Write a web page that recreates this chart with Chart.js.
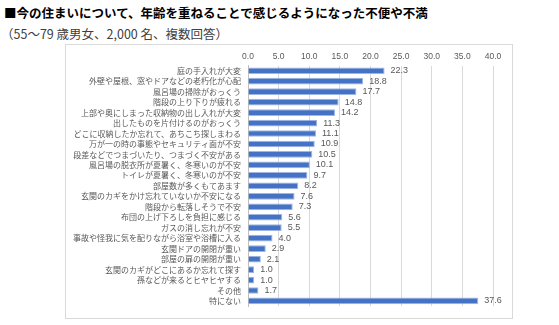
<!DOCTYPE html>
<html>
<head>
<meta charset="utf-8">
<script src="https://cdn.jsdelivr.net/npm/chart.js@4"></script>
<style>
  body { margin: 0; width: 559px; height: 325px; background: #fff; font-family: "Noto Sans CJK JP", sans-serif; position: relative; overflow: hidden; }
  #title { position: absolute; left: 4px; top: 3px; font-size: 12.5px; font-weight: bold; color: #000; white-space: nowrap; }
  #sub { position: absolute; left: 1px; top: 24px; font-size: 12.5px; color: #404040; white-space: nowrap; }
  #frame { position: absolute; left: 65px; top: 44px; width: 446px; height: 273px; border: 1px solid #d9d9d9; }
  #wrap { position: relative; width: 446px; height: 273px; }
</style>
</head>
<body>
<div id="title">■今の住まいについて、年齢を重ねることで感じるようになった不便や不満</div>
<div id="sub">（55～79 歳男女、2,000 名、複数回答）</div>
<div id="frame"><div id="wrap"><canvas id="chart"></canvas></div></div>
<script>
const categories = [
  '庭の手入れが大変',
  '外壁や屋根、窓やドアなどの老朽化が心配',
  '風呂場の掃除がおっくう',
  '階段の上り下りが疲れる',
  '上部や奥にしまった収納物の出し入れが大変',
  '出したものを片付けるのがおっくう',
  'どこに収納したか忘れて、あちこち探しまわる',
  '万が一の時の事態やセキュリティ面が不安',
  '段差などでつまづいたり、つまづく不安がある',
  '風呂場の脱衣所が夏暑く、冬寒いのが不安',
  'トイレが夏暑く、冬寒いのが不安',
  '部屋数が多くもてあます',
  '玄関のカギをかけ忘れていないか不安になる',
  '階段から転落しそうで不安',
  '布団の上げ下ろしを負担に感じる',
  'ガスの消し忘れが不安',
  '事故や怪我に気を配りながら浴室や浴槽に入る',
  '玄関ドアの開閉が重い',
  '部屋の扉の開閉が重い',
  '玄関のカギがどこにあるか忘れて探す',
  '孫などが来るとヒヤヒヤする',
  'その他',
  '特にない'
];
const values = [22.3, 18.8, 17.7, 14.8, 14.2, 11.3, 11.1, 10.9, 10.5, 10.1, 9.7, 8.2, 7.6, 7.3, 5.6, 5.5, 4.0, 2.9, 2.1, 1.0, 1.0, 1.7, 37.6];
const xMin = 0, xMax = 40, xStep = 5;

// numbers to the right of each bar
const valueLabels = {
  id: 'valueLabels',
  afterDatasetsDraw(chart) {
    const ctx = chart.ctx;
    const meta = chart.getDatasetMeta(0);
    ctx.save();
    ctx.font = '9px "Liberation Sans", sans-serif';
    ctx.fillStyle = '#595959';
    ctx.textBaseline = 'middle';
    ctx.textAlign = 'left';
    meta.data.forEach((bar, i) => {
      ctx.fillText(values[i].toFixed(1), bar.x + 6, bar.y);
    });
    ctx.restore();
  }
};

new Chart(document.getElementById('chart'), {
  type: 'bar',
  data: {
    labels: categories,
    datasets: [{
      data: values,
      backgroundColor: '#4472c4',
      borderColor: '#9fb6e3',
      borderWidth: 1,
      categoryPercentage: 1,
      barPercentage: 0.64
    }]
  },
  plugins: [valueLabels],
  options: {
    indexAxis: 'y',
    responsive: true,
    maintainAspectRatio: false,
    animation: false,
    layout: { padding: { top: 0, right: 19, bottom: 9, left: 0 } },
    plugins: { legend: { display: false }, tooltip: { enabled: false } },
    scales: {
      x: {
        position: 'top',
        min: xMin, max: xMax,
        ticks: {
          stepSize: xStep,
          callback: v => v.toFixed(1),
          font: { size: 8.5, family: '"Liberation Sans", sans-serif' },
          color: '#595959',
          padding: 4
        },
        grid: { color: '#d9d9d9', drawTicks: false },
        border: { display: false },
        afterFit(scale) { scale.height = 20.5; }
      },
      y: {
        ticks: {
          font: { size: 8, family: '"Noto Sans CJK JP", sans-serif' },
          color: '#595959',
          padding: 7,
          autoSkip: false
        },
        grid: { display: false, drawTicks: false },
        border: { display: true, color: '#bfbfbf' },
        afterFit(scale) { scale.width = 182; }
      }
    }
  }
});
</script>
</body>
</html>
